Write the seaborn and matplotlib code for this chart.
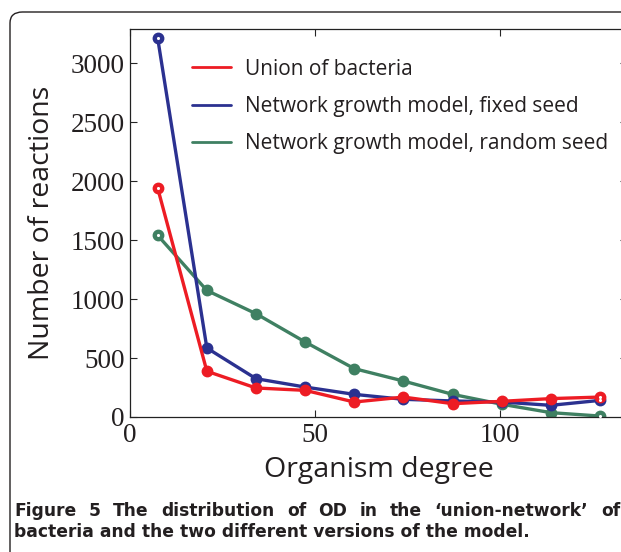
import numpy as np
import pandas as pd
import matplotlib
matplotlib.use('Agg')
import matplotlib.pyplot as plt
from matplotlib.lines import Line2D
from matplotlib.patches import FancyBboxPatch
import seaborn as sns

# organism degree (bin centres) and number of reactions per series
degree = [7.5, 20.8, 34.1, 47.4, 60.7, 74.0, 87.3, 100.6, 113.9, 127.2]
union_bacteria = [1940, 388, 246, 226, 127, 169, 113, 133, 156, 169]
fixed_seed = [3210, 585, 325, 254, 192, 150, 136, 127, 99, 141]
random_seed = [1540, 1073, 876, 636, 410, 305, 192, 108, 37, 8]

names = ['Union of bacteria', 'Network growth model, fixed seed',
         'Network growth model, random seed']
colors = ['#ED1C24', '#2B3190', '#3F8062']

df = pd.concat([
    pd.DataFrame({'degree': degree, 'reactions': union_bacteria, 'series': names[0]}),
    pd.DataFrame({'degree': degree, 'reactions': fixed_seed, 'series': names[1]}),
    pd.DataFrame({'degree': degree, 'reactions': random_seed, 'series': names[2]}),
])

sns.set_style('ticks')
plt.rcParams['font.family'] = ['Open Sans', 'DejaVu Sans']

W, H = 621, 552
fig = plt.figure(figsize=(W / 100, H / 100), dpi=100)
ax = fig.add_axes([130 / W, 1 - 417 / H, (627 - 130) / W, (417 - 29) / H])

# draw green first, red last so red sits on top
for name, col in [(names[2], colors[2]), (names[1], colors[1]), (names[0], colors[0])]:
    sub = df[df['series'] == name]
    sns.lineplot(data=sub, x='degree', y='reactions', color=col,
                 marker='o', markersize=7, markeredgewidth=1.5, markeredgecolor=col,
                 linewidth=2.4, ax=ax, legend=False)
    # end points are drawn as open circles
    ends = sub.iloc[[0, -1]]
    sns.scatterplot(data=ends, x='degree', y='reactions', color='white', s=5,
                    linewidth=0, ax=ax, legend=False, zorder=5)

ax.set_xlim(0, 134.5)
ax.set_ylim(0, 3290)
ax.set_xticks([0, 50, 100])
ax.set_yticks([0, 500, 1000, 1500, 2000, 2500, 3000])
ax.tick_params(direction='in', top=True, right=True, length=5, width=0.8, pad=4)
for lab in ax.get_xticklabels() + ax.get_yticklabels():
    lab.set_family('Liberation Serif')
    lab.set_fontsize(19.5)
    lab.set_color('#231f20')
for s in ax.spines.values():
    s.set_linewidth(0.9)
    s.set_color('#222222')

ax.set_xlabel('Organism degree', fontsize=20.5, color='#231f20', labelpad=6)
ax.set_ylabel('Number of reactions', fontsize=20.5, color='#231f20', labelpad=10)

handles = [Line2D([], [], color=c, lw=2.0) for c in colors]
ax.legend(handles, names, loc='upper left', bbox_to_anchor=(0.088, 0.972), frameon=False,
          fontsize=15, handlelength=1.87, handletextpad=0.67, labelspacing=0.78,
          labelcolor='#231f20')

# outer figure frame (top and left visible)
frame = FancyBboxPatch((10 / W, -0.2), 1.2, 1 - 12 / H + 0.2,
                       boxstyle='round,pad=0,rounding_size=0.02',
                       transform=fig.transFigure, fill=False, lw=1.0,
                       edgecolor='#231f20', clip_on=False)
fig.patches.append(frame)

cap = dict(fontsize=12.3, fontweight='bold', color='#231f20', va='center', ha='left',
           family='DejaVu Sans')

# first caption line is justified between x=14 and x=620 px
renderer = fig.canvas.get_renderer()
words = "Figure 5 The distribution of OD in the \u2018union-network\u2019 of".split(' ')
texts = [fig.text(0, 1 - 511 / H, w, **cap) for w in words]
widths = [t.get_window_extent(renderer).width for t in texts]
gap = (620 - 14 - sum(widths)) / (len(words) - 1)
x = 14
for t, w in zip(texts, widths):
    t.set_x(x / W)
    x += w + gap
fig.text(14 / W, 1 - 532 / H, 'bacteria and the two different versions of the model.', **cap)

fig.savefig('out.png', dpi=100)
